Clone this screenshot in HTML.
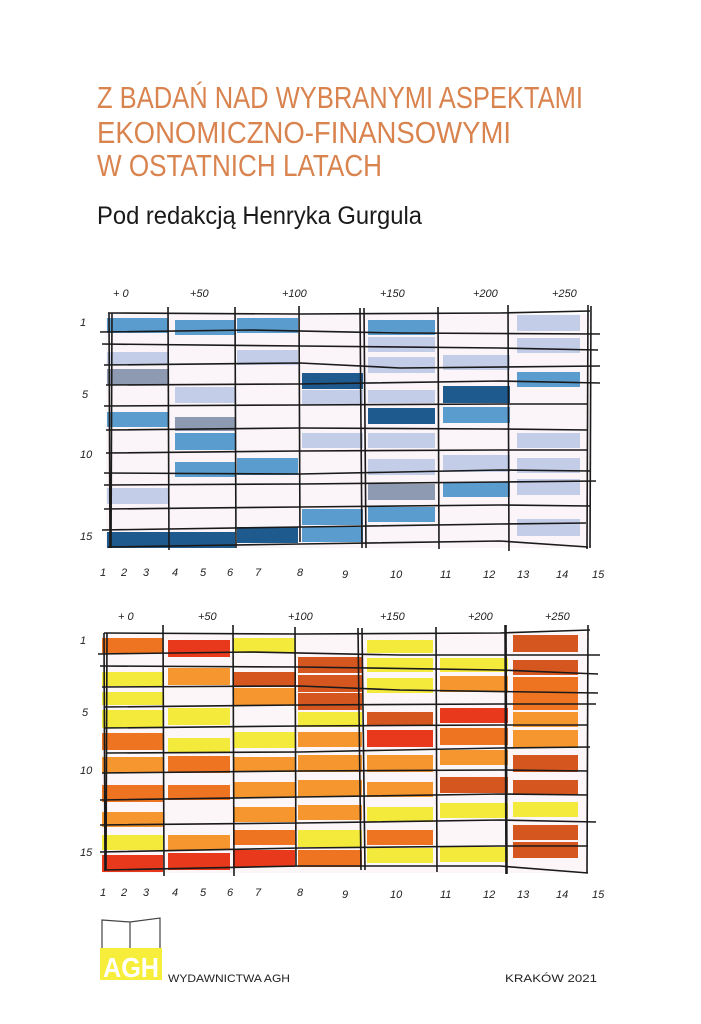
<!DOCTYPE html>
<html><head><meta charset="utf-8"><style>
html,body{margin:0;padding:0;background:#fff;}
svg{display:block;}
.h{font-family:"Liberation Sans",sans-serif;font-style:italic;font-size:11px;fill:#222;}
</style></head><body>
<svg width="701" height="1024" viewBox="0 0 701 1024" xmlns="http://www.w3.org/2000/svg">
<rect width="701" height="1024" fill="#fff"/>
<g font-family="Liberation Sans, sans-serif" fill="#d9834f">
<text x="97" y="108" font-size="31" textLength="486" lengthAdjust="spacingAndGlyphs">Z BADAŃ NAD WYBRANYMI ASPEKTAMI</text>
<text x="97" y="143" font-size="31" textLength="414" lengthAdjust="spacingAndGlyphs">EKONOMICZNO-FINANSOWYMI</text>
<text x="97" y="176" font-size="31" textLength="285" lengthAdjust="spacingAndGlyphs">W OSTATNICH LATACH</text>
</g>
<text x="97" y="224" font-family="Liberation Sans, sans-serif" font-size="25" fill="#1a1a1a" textLength="325" lengthAdjust="spacingAndGlyphs">Pod redakcją Henryka Gurgula</text>

<!-- TOP GRID -->
<rect x="106" y="314" width="484" height="234" fill="#fbf4f8"/>
<g fill="#c3cde8">
<rect x="107" y="352" width="61" height="13"/><rect x="107" y="488" width="61" height="16"/>
<rect x="175" y="387" width="60" height="16"/>
<rect x="237" y="350" width="61" height="15"/>
<rect x="302" y="390" width="61" height="15"/><rect x="302" y="433" width="61" height="15"/>
<rect x="368" y="337" width="67" height="15"/><rect x="368" y="357" width="67" height="16"/><rect x="368" y="390" width="67" height="13"/><rect x="368" y="433" width="67" height="15"/><rect x="368" y="459" width="67" height="16"/>
<rect x="443" y="355" width="67" height="15"/><rect x="443" y="455" width="67" height="17"/>
<rect x="517" y="315" width="63" height="16"/><rect x="517" y="338" width="63" height="15"/><rect x="517" y="433" width="63" height="15"/><rect x="517" y="458" width="63" height="15"/><rect x="517" y="479" width="63" height="16"/><rect x="517" y="519" width="63" height="17"/>
</g>
<g fill="#5a9ccd">
<rect x="107" y="318" width="61" height="15"/><rect x="107" y="412" width="61" height="15"/>
<rect x="175" y="320" width="60" height="15"/><rect x="175" y="433" width="60" height="17"/><rect x="175" y="462" width="60" height="15"/>
<rect x="237" y="318" width="61" height="15"/><rect x="237" y="458" width="61" height="17"/>
<rect x="302" y="509" width="61" height="16"/><rect x="302" y="527" width="61" height="15"/>
<rect x="368" y="320" width="67" height="15"/><rect x="368" y="507" width="67" height="15"/>
<rect x="443" y="407" width="67" height="16"/><rect x="443" y="482" width="67" height="15"/>
<rect x="517" y="372" width="63" height="15"/>
</g>
<g fill="#8e9ab2">
<rect x="107" y="369" width="61" height="16"/><rect x="175" y="417" width="60" height="14"/><rect x="368" y="484" width="67" height="16"/>
</g>
<g fill="#1f5a8e">
<rect x="107" y="532" width="128" height="16"/><rect x="237" y="527" width="61" height="16"/>
<rect x="302" y="373" width="61" height="16"/><rect x="368" y="408" width="67" height="16"/><rect x="443" y="386" width="67" height="17"/>
</g>
<g stroke="#1a1a1a" stroke-width="1.6" fill="none">
<path d="M100 332 L250 330 L400 333 L600 334"/><path d="M102 344 L300 346 L500 348 L598 350"/>
<path d="M104 365 L300 363 L400 368 L600 366"/><path d="M106 385 L300 384 L500 381 L600 383"/>
<path d="M104 406 L300 405 L500 404 L588 404"/><path d="M106 430 L300 428 L500 429 L588 430"/>
<path d="M106 453 L300 451 L500 450 L588 450"/><path d="M104 473 L300 474 L500 470 L590 471"/>
<path d="M104 485 L300 484 L500 482 L596 481"/><path d="M104 509 L300 507 L500 505 L590 506"/>
<path d="M102 530 L300 527 L500 524 L586 523"/><path d="M108 547 L300 544 L500 541 L588 547"/>
<path d="M108 313 L300 314 L500 313 L590 311"/>
<path d="M109 313 L110 548"/><path d="M112 313 L111 548"/><path d="M168 307 L169 550"/><path d="M235 307 L236 548"/>
<path d="M299 306 L300 542"/><path d="M360 308 L362 548"/><path d="M364 308 L366 548"/><path d="M438 307 L439 549"/><path d="M508 305 L509 551"/><path d="M588 305 L587 549"/><path d="M591 306 L590 548"/>
</g>

<!-- BOTTOM GRID -->
<rect x="102" y="633" width="486" height="240" fill="#fdf6f8"/>
<g fill="#f4ea3c">
<rect x="102" y="672" width="61" height="14"/><rect x="102" y="692" width="61" height="13"/><rect x="102" y="710" width="61" height="18"/><rect x="102" y="835" width="61" height="15"/>
<rect x="168" y="708" width="62" height="17"/><rect x="168" y="738" width="62" height="15"/>
<rect x="233" y="638" width="62" height="15"/><rect x="233" y="732" width="62" height="16"/>
<rect x="298" y="712" width="64" height="15"/><rect x="298" y="830" width="64" height="17"/>
<rect x="367" y="640" width="66" height="13"/><rect x="367" y="658" width="66" height="14"/><rect x="367" y="678" width="66" height="15"/><rect x="367" y="807" width="66" height="15"/><rect x="367" y="848" width="66" height="15"/>
<rect x="440" y="658" width="68" height="14"/><rect x="440" y="803" width="68" height="15"/><rect x="440" y="847" width="68" height="15"/>
<rect x="513" y="802" width="65" height="15"/>
</g>
<g fill="#f5962e">
<rect x="102" y="757" width="61" height="16"/><rect x="102" y="812" width="61" height="15"/>
<rect x="168" y="668" width="62" height="17"/><rect x="168" y="835" width="62" height="15"/>
<rect x="233" y="688" width="62" height="17"/><rect x="233" y="757" width="62" height="15"/><rect x="233" y="782" width="62" height="15"/><rect x="233" y="807" width="62" height="15"/>
<rect x="298" y="732" width="64" height="15"/><rect x="298" y="755" width="64" height="17"/><rect x="298" y="780" width="64" height="17"/><rect x="298" y="805" width="64" height="15"/>
<rect x="367" y="755" width="66" height="17"/><rect x="367" y="782" width="66" height="15"/>
<rect x="440" y="676" width="68" height="16"/><rect x="440" y="750" width="68" height="15"/>
<rect x="513" y="712" width="65" height="15"/><rect x="513" y="730" width="65" height="17"/>
</g>
<g fill="#ee7422">
<rect x="102" y="638" width="61" height="15"/><rect x="102" y="733" width="61" height="17"/><rect x="102" y="785" width="61" height="17"/>
<rect x="168" y="756" width="62" height="17"/><rect x="168" y="785" width="62" height="15"/>
<rect x="233" y="830" width="62" height="15"/><rect x="298" y="850" width="64" height="17"/>
<rect x="367" y="830" width="66" height="15"/><rect x="440" y="728" width="68" height="17"/>
<rect x="513" y="677" width="65" height="33"/>
</g>
<g fill="#d6561f">
<rect x="233" y="672" width="62" height="15"/>
<rect x="298" y="657" width="64" height="16"/><rect x="298" y="675" width="64" height="17"/><rect x="298" y="693" width="64" height="17"/>
<rect x="367" y="712" width="66" height="14"/><rect x="440" y="777" width="68" height="16"/>
<rect x="513" y="635" width="65" height="17"/><rect x="513" y="660" width="65" height="15"/><rect x="513" y="755" width="65" height="17"/><rect x="513" y="780" width="65" height="15"/><rect x="513" y="825" width="65" height="15"/><rect x="513" y="842" width="65" height="16"/>
</g>
<g fill="#e9391c">
<rect x="102" y="855" width="61" height="17"/><rect x="168" y="640" width="62" height="17"/><rect x="168" y="853" width="62" height="17"/>
<rect x="233" y="850" width="62" height="17"/><rect x="367" y="730" width="66" height="17"/><rect x="440" y="708" width="68" height="15"/>
</g>
<g stroke="#1a1a1a" stroke-width="1.6" fill="none">
<path d="M98 654 L250 652 L400 655 L600 655"/><path d="M100 666 L300 667 L500 670 L598 674"/>
<path d="M102 687 L300 686 L400 690 L598 693"/><path d="M104 707 L300 705 L500 704 L596 704"/>
<path d="M104 728 L300 726 L500 725 L588 725"/><path d="M106 753 L300 752 L500 748 L590 747"/>
<path d="M102 773 L300 771 L500 770 L588 771"/><path d="M100 800 L300 797 L500 794 L588 795"/>
<path d="M100 825 L300 823 L500 820 L596 822"/><path d="M100 852 L300 848 L500 846 L588 846"/>
<path d="M104 870 L300 866 L500 866 L588 873"/>
<path d="M104 633 L300 634 L500 633 L590 630"/>
<path d="M104 633 L105 870"/><path d="M107 633 L106 870"/><path d="M163 625 L164 876"/><path d="M233 625 L234 876"/>
<path d="M295 627 L296 866"/><path d="M358 628 L361 870"/><path d="M362 628 L365 870"/><path d="M436 627 L437 872"/><path d="M506 625 L507 874"/><path d="M505 625 L506 874"/><path d="M588 625 L587 873"/>
</g>

<!-- handwritten labels -->
<g class="h">
<text x="113" y="297">+ 0</text><text x="190" y="297">+50</text><text x="282" y="297">+100</text><text x="380" y="297">+150</text><text x="473" y="297">+200</text><text x="552" y="297">+250</text>
<text x="80" y="326">1</text><text x="82" y="398">5</text><text x="80" y="458">10</text><text x="80" y="540">15</text>
<text x="100" y="576">1</text><text x="121" y="576">2</text><text x="143" y="576">3</text><text x="172" y="576">4</text><text x="200" y="576">5</text><text x="227" y="576">6</text><text x="255" y="576">7</text><text x="297" y="576">8</text><text x="342" y="578">9</text><text x="390" y="578">10</text><text x="440" y="578">11</text><text x="483" y="578">12</text><text x="517" y="578">13</text><text x="556" y="578">14</text><text x="592" y="578">15</text>
<text x="118" y="620">+ 0</text><text x="198" y="620">+50</text><text x="288" y="620">+100</text><text x="380" y="620">+150</text><text x="468" y="620">+200</text><text x="545" y="620">+250</text>
<text x="80" y="644">1</text><text x="82" y="716">5</text><text x="80" y="774">10</text><text x="80" y="856">15</text>
<text x="100" y="896">1</text><text x="121" y="896">2</text><text x="143" y="896">3</text><text x="172" y="896">4</text><text x="200" y="896">5</text><text x="227" y="896">6</text><text x="255" y="896">7</text><text x="297" y="896">8</text><text x="342" y="898">9</text><text x="390" y="898">10</text><text x="440" y="898">11</text><text x="483" y="898">12</text><text x="517" y="898">13</text><text x="556" y="898">14</text><text x="592" y="898">15</text>
</g>

<!-- logo -->
<path d="M102 920 L130 922 L160 918 L160 950 L130 952 L102 950 Z M130 922 L130 953" fill="none" stroke="#444" stroke-width="1.2"/>
<rect x="100" y="948" width="62" height="32" fill="#f6ee3a"/>
<text x="103" y="977" font-family="Liberation Sans, sans-serif" font-weight="bold" font-size="28" fill="#fff" textLength="56" lengthAdjust="spacingAndGlyphs">AGH</text>
<text x="168" y="982" font-family="Liberation Sans, sans-serif" font-size="11" fill="#222" textLength="122" lengthAdjust="spacingAndGlyphs">WYDAWNICTWA AGH</text>
<text x="505" y="982" font-family="Liberation Sans, sans-serif" font-size="11" fill="#222" textLength="92" lengthAdjust="spacingAndGlyphs">KRAKÓW 2021</text>
</svg>
</body></html>
